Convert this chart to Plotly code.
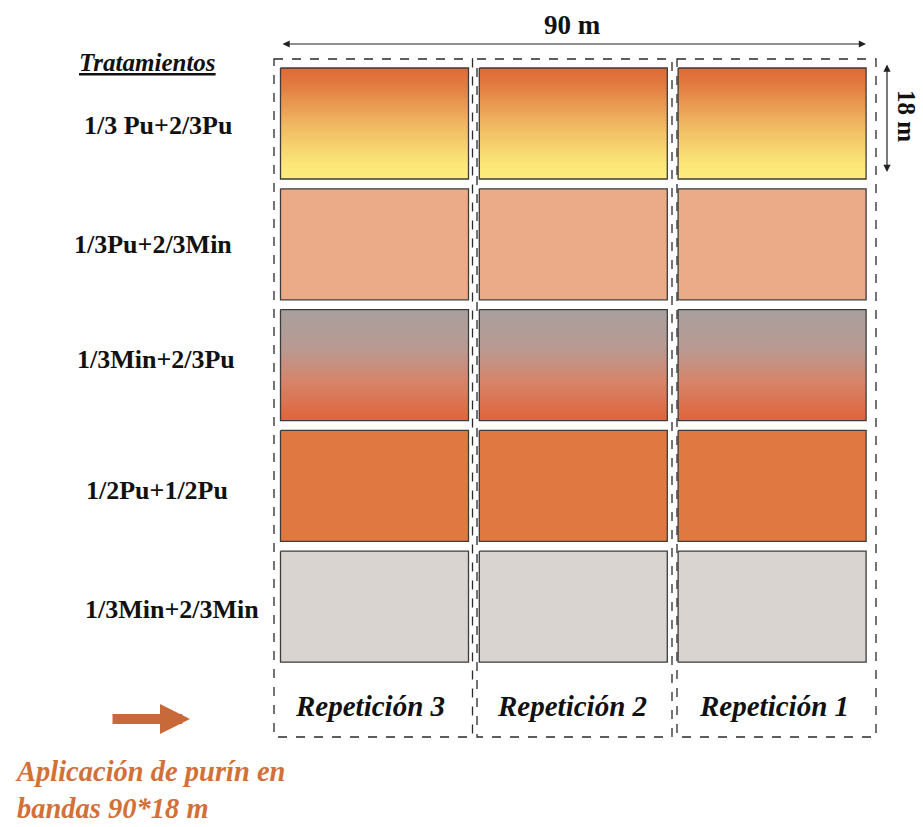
import plotly.graph_objects as go

# ---- data ----
treatments = ["1/3 Pu+2/3Pu", "1/3Pu+2/3Min", "1/3Min+2/3Pu", "1/2Pu+1/2Pu", "1/3Min+2/3Min"]
repetitions = ["Repetición 3", "Repetición 2", "Repetición 1"]
plot_length_m = 90
plot_width_m = 18
header_label = "Tratamientos"
application_note = ["Aplicación de purín en", "bandas 90*18 m"]

# ---- styles (per treatment); gradient scales run bottom (0) -> top (1) ----
treatment_fills = [
    [[0, "#fdef7e"], [0.15, "#fbe577"], [0.5, "#efb661"], [0.85, "#e27a40"], [1, "#df6a37"]],
    "#ecab88",
    [[0, "#e0643a"], [0.35, "#d6846a"], [0.65, "#b99a92"], [1, "#a8a09f"]],
    "#e07941",
    "#d9d4d0",
]

# ---- layout geometry (pixels) ----
W, H = 923, 827
rect_left0, rect_pitch_x, rect_w = 280.5, 198.8, 188.0
rect_top0, rect_pitch_y, rect_h = 68.0, 120.8, 111.0
dash_edges = [(274, 472.5), (477, 672), (677, 876)]
dash_top, dash_bottom = 59, 737
label_x = [158, 153, 156, 157, 172]
label_y = [125, 244, 359, 490, 609]
serif = "Liberation Serif"

fig = go.Figure()

# plots
for i, t in enumerate(treatments):
    y0 = rect_top0 + i * rect_pitch_y
    y1 = y0 + rect_h
    for j, rep in enumerate(repetitions):
        x0 = rect_left0 + j * rect_pitch_x
        x1 = x0 + rect_w
        fill = treatment_fills[i]
        kw = dict(
            x=[x0, x1, x1, x0, x0], y=[y0, y0, y1, y1, y0],
            mode="lines", fill="toself",
            line=dict(color="#3c3c3c", width=1.3),
            hoverinfo="text", text=f"{t} – {rep}",
        )
        if isinstance(fill, list):
            kw["fillgradient"] = dict(type="vertical", colorscale=fill)
        else:
            kw["fillcolor"] = fill
        fig.add_trace(go.Scatter(**kw))

# dashed column boxes
for (x0, x1) in dash_edges:
    fig.add_shape(type="rect", x0=x0, x1=x1, y0=dash_top, y1=dash_bottom,
                  line=dict(color="#2a2a2a", width=1.3, dash="dash"),
                  fillcolor="rgba(0,0,0,0)", layer="below")

# dimension arrows
fig.add_annotation(x=866, y=44, ax=281, ay=44, xref="x", yref="y", axref="x", ayref="y",
                   text="", showarrow=True, arrowhead=2, arrowside="end+start",
                   arrowsize=1.2, arrowwidth=1.2, arrowcolor="#222222")
fig.add_annotation(x=572, y=25, xref="x", yref="y", text=f"<b>{plot_length_m} m</b>",
                   showarrow=False, font=dict(family=serif, size=27, color="#111111"))
fig.add_annotation(x=887, y=172, ax=887, ay=63, xref="x", yref="y", axref="x", ayref="y",
                   text="", showarrow=True, arrowhead=2, arrowside="end+start",
                   arrowsize=1.2, arrowwidth=1.2, arrowcolor="#222222")
fig.add_annotation(x=907, y=116, xref="x", yref="y", text=f"<b>{plot_width_m} m</b>",
                   textangle=90, showarrow=False, borderpad=0,
                   font=dict(family=serif, size=25, color="#111111"))

# labels
fig.add_annotation(x=147, y=62, xref="x", yref="y", text=f"<u><b><i>{header_label}</i></b></u>",
                   showarrow=False, font=dict(family=serif, size=25, color="#111111"))
for i, t in enumerate(treatments):
    fig.add_annotation(x=label_x[i], y=label_y[i], xref="x", yref="y",
                       text=f"<b>{t}</b>", showarrow=False,
                       font=dict(family=serif, size=26, color="#111111"))
for j, rep in enumerate(repetitions):
    x0, x1 = dash_edges[j]
    fig.add_annotation(x=(x0 + x1) / 2 - 3, y=706, xref="x", yref="y",
                       text=f"<b><i>{rep}</i></b>", showarrow=False,
                       font=dict(family=serif, size=29, color="#111111"))

# application arrow
fig.add_annotation(x=190, y=719, ax=111, ay=719, xref="x", yref="y", axref="x", ayref="y",
                   text="", showarrow=True, arrowhead=2, arrowsize=0.6, arrowwidth=10,
                   arrowcolor="#c8693a", standoff=0)
note_text = "<br>".join(f"<b><i>{line}</i></b>" for line in application_note)
fig.add_annotation(x=14, y=825, xref="x", yref="y", xanchor="left", yanchor="bottom",
                   align="left", text=note_text, showarrow=False, borderpad=0,
                   font=dict(family=serif, size=28.5, color="#d2703a"))

fig.update_layout(
    width=W, height=H, margin=dict(l=0, r=0, t=0, b=0),
    paper_bgcolor="white", plot_bgcolor="white", showlegend=False,
    xaxis=dict(range=[0, W], visible=False, fixedrange=True),
    yaxis=dict(range=[H, 0], visible=False, fixedrange=True),
)
fig.write_html("out.html", config={"displayModeBar": False},
               post_script="document.body.style.margin='0';document.body.style.overflow='hidden';")
